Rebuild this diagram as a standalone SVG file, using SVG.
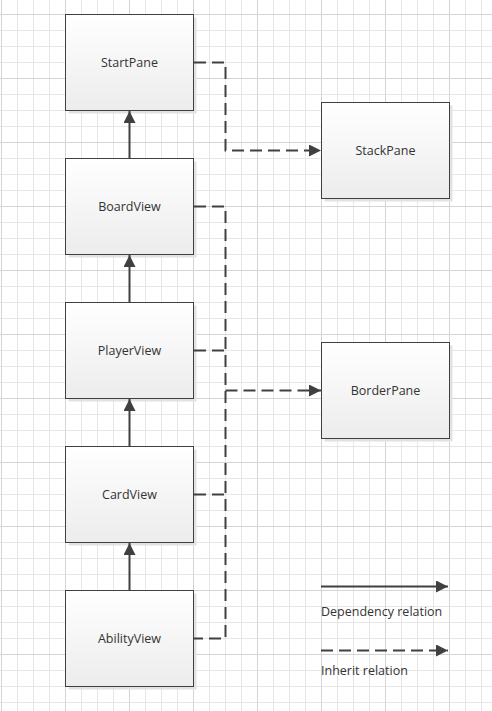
<svg xmlns="http://www.w3.org/2000/svg" width="492" height="711" viewBox="0 0 492 711">
<defs>
<pattern id="grid" patternUnits="userSpaceOnUse" x="1" y="14" width="64" height="64">
<path d="M16.5 0V64M32.5 0V64M48.5 0V64M0 16.5H64M0 32.5H64M0 48.5H64" stroke="#e6e6e6" stroke-width="1" fill="none"/>
<path d="M0.5 0V64M0 0.5H64" stroke="#d4d4d4" stroke-width="1" fill="none"/>
</pattern>
<linearGradient id="fill" x1="0" y1="0" x2="0" y2="1">
<stop offset="0" stop-color="#ffffff"/>
<stop offset="1" stop-color="#ececec"/>
</linearGradient>
<marker id="arr" markerUnits="userSpaceOnUse" markerWidth="14" markerHeight="14" refX="12" refY="6" orient="auto">
<path d="M0 0L12 6L0 12Z" fill="#404040"/>
</marker>
</defs>
<style>
.box{fill:url(#fill);stroke:#404040;stroke-width:1}
.sh{fill:#e2e2e2}
.lbl{font-family:"Open Sans","Noto Sans",sans-serif;font-size:12.5px;fill:#333;text-anchor:middle;dominant-baseline:central}
.leg{font-family:"Open Sans","Noto Sans",sans-serif;font-size:12.5px;fill:#333}
.dep{stroke:#404040;stroke-width:2;fill:none}
.inh{stroke:#404040;stroke-width:2;fill:none;stroke-dasharray:12 6}
</style>
<rect width="492" height="711" fill="#ffffff"/>
<rect width="492" height="711" fill="url(#grid)"/>
<g id="StartPane"><rect class="sh" x="68.5" y="17.5" width="128" height="96"/><rect class="box" x="65.5" y="14.5" width="128" height="96"/><text class="lbl" x="129.5" y="62.5">StartPane</text></g>
<g id="BoardView"><rect class="sh" x="68.5" y="161.5" width="128" height="96"/><rect class="box" x="65.5" y="158.5" width="128" height="96"/><text class="lbl" x="129.5" y="206.5">BoardView</text></g>
<g id="PlayerView"><rect class="sh" x="68.5" y="305.5" width="128" height="96"/><rect class="box" x="65.5" y="302.5" width="128" height="96"/><text class="lbl" x="129.5" y="350.5">PlayerView</text></g>
<g id="CardView"><rect class="sh" x="68.5" y="449.5" width="128" height="96"/><rect class="box" x="65.5" y="446.5" width="128" height="96"/><text class="lbl" x="129.5" y="494.5">CardView</text></g>
<g id="AbilityView"><rect class="sh" x="68.5" y="593.5" width="128" height="96"/><rect class="box" x="65.5" y="590.5" width="128" height="96"/><text class="lbl" x="129.5" y="638.5">AbilityView</text></g>
<g id="StackPane"><rect class="sh" x="324.5" y="105.5" width="128" height="96"/><rect class="box" x="321.5" y="102.5" width="128" height="96"/><text class="lbl" x="385.5" y="150.5">StackPane</text></g>
<g id="BorderPane"><rect class="sh" x="324.5" y="345.5" width="128" height="96"/><rect class="box" x="321.5" y="342.5" width="128" height="96"/><text class="lbl" x="385.5" y="390.5">BorderPane</text></g>
<g id="connectors">
<path class="dep" d="M129.5 158.5V111" marker-end="url(#arr)"/>
<path class="dep" d="M129.5 302.5V255" marker-end="url(#arr)"/>
<path class="dep" d="M129.5 446.5V399" marker-end="url(#arr)"/>
<path class="dep" d="M129.5 590.5V543" marker-end="url(#arr)"/>
<path class="inh" d="M194 62.5H225.5V150.5H321" marker-end="url(#arr)"/>
<path class="inh" d="M194 206.5H225.5V638.5H194"/>
<path class="inh" d="M194 350.5H225.5"/>
<path class="inh" d="M194 494.5H225.5"/>
<path class="inh" d="M225.5 390.5H321" marker-end="url(#arr)"/>
</g>
<g id="legend">
<path class="dep" d="M321 586.5H448" marker-end="url(#arr)"/>
<text class="leg" x="321" y="616">Dependency relation</text>
<path class="inh" d="M321 650.5H448" marker-end="url(#arr)"/>
<text class="leg" x="321" y="675">Inherit relation</text>
</g>
</svg>
